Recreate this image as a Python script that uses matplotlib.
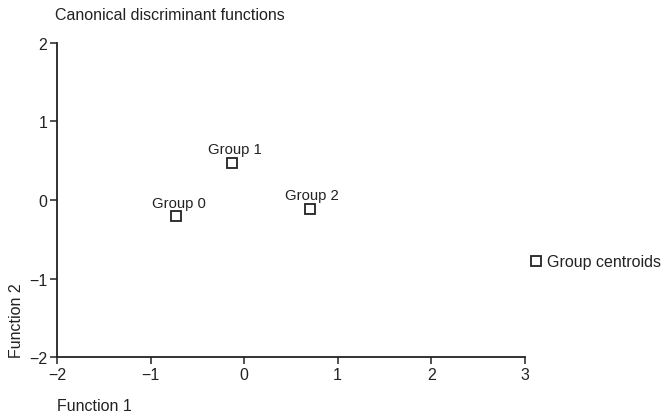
import matplotlib
matplotlib.use("Agg")
import matplotlib.pyplot as plt

# group centroids
groups = ["Group 0", "Group 1", "Group 2"]
func1 = [-0.73, -0.13, 0.70]
func2 = [-0.21, 0.47, -0.11]

xticks = [-2, -1, 0, 1, 2, 3]
yticks = [-2, -1, 0, 1, 2]

TXT = "#222222"

plt.rcParams["font.family"] = ["Liberation Sans", "DejaVu Sans"]

fig = plt.figure(figsize=(6.71, 4.14), dpi=100)
ax = fig.add_axes([0.085, 0.135, 0.697, 0.759])

ax.plot(func1, func2, linestyle="none", marker="s", markersize=7,
        markerfacecolor="white", markeredgecolor=TXT, markeredgewidth=1.3,
        label="Group centroids")

for name, x, y in zip(groups, func1, func2):
    ax.annotate(name, (x, y), xytext=(2, 5), textcoords="offset points",
                ha="center", va="bottom", fontsize=10.7, color=TXT)

ax.set_xlim(-2, 3)
ax.set_ylim(-2, 2)
ax.set_xticks(xticks)
ax.set_yticks(yticks)
ax.set_xticklabels([str(t).replace("-", "\u2212") for t in xticks])
ax.set_yticklabels([str(t).replace("-", "\u2212") for t in yticks])
ax.tick_params(colors=TXT, labelsize=11.5, length=5, width=1.1, pad=2)

for side in ["top", "right"]:
    ax.spines[side].set_visible(False)
for side in ["left", "bottom"]:
    ax.spines[side].set_linewidth(1.3)
    ax.spines[side].set_color(TXT)

ax.set_xlabel("Function 1", loc="left", fontsize=11.5, color=TXT, labelpad=12)
ax.set_ylabel("Function 2", loc="bottom", fontsize=11.5, color=TXT, labelpad=4)
ax.set_title("Canonical discriminant functions", loc="left", x=-0.004,
             fontsize=11.5, color=TXT, pad=17)

fig.legend(loc="center left", bbox_to_anchor=(0.776, 0.365), frameon=False,
           fontsize=11.5, handletextpad=0.25, handlelength=0.9, borderpad=0,
           labelcolor=TXT)

fig.savefig("out.png", dpi=100)
